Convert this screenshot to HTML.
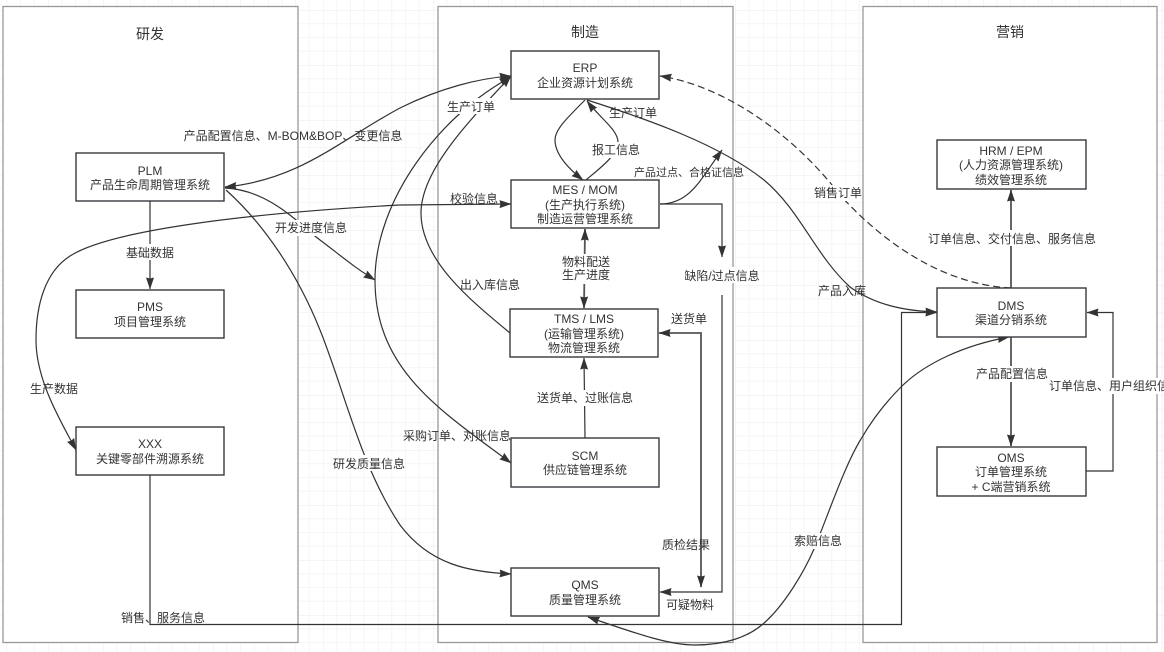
<!DOCTYPE html>
<html><head><meta charset="utf-8"><style>
html,body{margin:0;padding:0;background:#fff;width:1164px;height:652px;overflow:hidden}
svg{display:block;filter:blur(.3px)}
text{font-family:"Liberation Sans","Noto Sans CJK SC",sans-serif;font-size:12px;fill:#333;text-anchor:middle}
.c{fill:#fff;stroke:#999;stroke-width:1.3}
.b{fill:#fff;stroke:#36393d;stroke-width:1.4}
.l{fill:none;stroke:#333;stroke-width:1.2}
.t{fill:none;stroke:#555;stroke-width:1.8}
.w{fill:#fff}
</style></head><body>
<svg width="1164" height="652" viewBox="0 0 1164 652" xmlns="http://www.w3.org/2000/svg">
<defs>
<pattern id="g" width="55" height="55" patternUnits="userSpaceOnUse" patternTransform="translate(48 10)">
<path d="M13.75 0V55M27.5 0V55M41.25 0V55M0 13.75H55M0 27.5H55M0 41.25H55" stroke="#f6f6f6" stroke-width="1" fill="none"/>
<path d="M0 0V55M0 0H55" stroke="#efefef" stroke-width="1.2" fill="none"/>
</pattern>
<marker id="a" markerUnits="userSpaceOnUse" markerWidth="13" markerHeight="9" refX="11.5" refY="4" orient="auto-start-reverse" viewBox="0 0 13 8">
<path d="M0 0L12 4L0 8L1 4Z" fill="#333"/>
</marker>
</defs>
<rect width="1164" height="652" fill="#fff"/>
<rect width="1164" height="652" fill="url(#g)"/>
<rect class="c" x="3" y="6.500" width="295" height="636"/>
<rect class="c" x="438" y="6.500" width="295" height="636"/>
<rect class="c" x="863" y="6.500" width="294" height="636"/>
<text x="150" y="39" style="font-size:14px">研发</text>
<text x="585" y="37" style="font-size:14px">制造</text>
<text x="1010" y="37" style="font-size:14px">营销</text>

<!-- connectors -->
<path class="l" d="M225,187 C300,180 340,140 400,108 C440,88 480,78 511,76" marker-start="url(#a)" marker-end="url(#a)"/>
<path class="l" d="M225,188 C270,190 300,225 320,240 C340,255 355,268 375,280" marker-end="url(#a)"/>
<path class="l" d="M511,77 C440,115 375,200 375,280 C375,370 440,410 511,463" marker-start="url(#a)" marker-end="url(#a)"/>
<path class="l" d="M510,333 C470,300 421,260 421,213 C421,170 470,120 511,76" marker-end="url(#a)"/>
<path class="l" d="M226,190 C265,225 298,275 320,330 C345,392 360,465 400,525 C430,565 470,572 511,574" marker-end="url(#a)"/>
<path class="l" d="M511,204 L400,205 C250,213 110,230 70,256 C45,272 36,305 36,340 C36,380 60,420 76,450" marker-start="url(#a)" marker-end="url(#a)"/>
<path class="l" d="M585,100 C565,120 555,130 555,140 C555,155 570,170 583,180" marker-end="url(#a)" stroke-width="1.4"/>
<path class="l" d="M586,180 C600,168 618,155 618,142 C618,130 600,118 587,101" marker-end="url(#a)" stroke-width="1.4"/>
<path class="l" d="M587,100 C650,120 720,145 764,180 C800,210 815,255 850,287 C875,305 905,311 937,312" marker-end="url(#a)"/>
<path class="l" stroke-dasharray="7 4" d="M1011,288 C950,285 890,250 840,195 C790,130 720,85 660,76" marker-end="url(#a)"/>
<path class="l" d="M660,204 C690,204 700,180 722,150" marker-end="url(#a)"/>
<path class="l" d="M660,204 H722 V257" marker-end="url(#a)"/>
<path class="l" d="M722,295 V592 H660" marker-end="url(#a)"/>
<path class="t" d="M701,587 V333 H659" marker-start="url(#a)" marker-end="url(#a)"/>
<path class="t" d="M585,229 L584,308" marker-start="url(#a)" marker-end="url(#a)"/>
<path class="l" stroke-width="1.4" d="M585,438 L584,358" marker-end="url(#a)"/>
<path class="l" d="M150,475 V624.500 H901.500 V312.500 H937" marker-end="url(#a)"/>
<path class="l" d="M588,617 C640,635 670,645 695,645 C725,645 748,637 763,624 C785,605 805,570 814,549 C830,510 845,465 861,439 C872,420 885,403 901,387 C925,363 965,345 1009,337" marker-start="url(#a)" marker-end="url(#a)"/>
<path class="t" d="M1011,288 V190" marker-end="url(#a)"/>
<path class="t" d="M1011,337 V446" marker-end="url(#a)"/>
<path class="l" d="M1086,471 H1113 V312.500 H1087" marker-end="url(#a)"/>
<path class="l" stroke-width="1.5" d="M150,201 V289" marker-end="url(#a)"/>

<!-- boxes -->
<rect class="b" x="76" y="153" width="148" height="48"/>
<rect class="b" x="76" y="290" width="148" height="48"/>
<rect class="b" x="76" y="427" width="148" height="48"/>
<rect class="b" x="511" y="51" width="148" height="48"/>
<rect class="b" x="511" y="180" width="148" height="48"/>
<rect class="b" x="510" y="309" width="148" height="48"/>
<rect class="b" x="511" y="438" width="148" height="49"/>
<rect class="b" x="511" y="568" width="148" height="48"/>
<rect class="b" x="937" y="140" width="149" height="49"/>
<rect class="b" x="937" y="288" width="149" height="49"/>
<rect class="b" x="937" y="447" width="149" height="49"/>

<text x="150" y="175">PLM</text><text x="150" y="189">产品生命周期管理系统</text>
<text x="150" y="311">PMS</text><text x="150" y="326">项目管理系统</text>
<text x="150" y="448">XXX</text><text x="150" y="463">关键零部件溯源系统</text>
<text x="585" y="72">ERP</text><text x="585" y="87">企业资源计划系统</text>
<text x="585" y="194">MES / MOM</text><text x="585" y="209">(生产执行系统)</text><text x="585" y="223">制造运营管理系统</text>
<text x="584" y="323">TMS / LMS</text><text x="584" y="338">(运输管理系统)</text><text x="584" y="352">物流管理系统</text>
<text x="585" y="460">SCM</text><text x="585" y="474">供应链管理系统</text>
<text x="585" y="589">QMS</text><text x="585" y="604">质量管理系统</text>
<text x="1011" y="155">HRM / EPM</text><text x="1011" y="169">(人力资源管理系统)</text><text x="1011" y="184">绩效管理系统</text>
<text x="1011" y="310">DMS</text><text x="1011" y="324">渠道分销系统</text>
<text x="1011" y="462">OMS</text><text x="1011" y="476">订单管理系统</text><text x="1011" y="491">+ C端营销系统</text>

<!-- label backgrounds -->
<rect class="w" x="126" y="244" width="49" height="16"/>
<rect class="w" x="275" y="220" width="72" height="16"/>
<rect class="w" x="591" y="142" width="50" height="16"/>
<rect class="w" x="561" y="254" width="50" height="30"/>
<rect class="w" x="684" y="267" width="77" height="16"/>
<rect class="w" x="537" y="390" width="96" height="16"/>
<rect class="w" x="333" y="455" width="72" height="16"/>
<rect class="w" x="794" y="533" width="49" height="16"/>
<rect class="w" x="976" y="366" width="72" height="16"/>
<rect class="w" x="930" y="230" width="165" height="16"/>
<rect class="w" x="1049" y="378" width="115" height="16"/>
<rect class="w" x="447" y="98" width="49" height="16"/>
<rect class="w" x="814" y="185" width="48" height="16"/>

<!-- labels -->
<text x="293" y="140">产品配置信息、M-BOM&amp;BOP、变更信息</text>
<text x="311" y="232">开发进度信息</text>
<text x="150" y="257">基础数据</text>
<text x="54" y="393">生产数据</text>
<text x="163" y="622">销售、服务信息</text>
<text x="369" y="468">研发质量信息</text>
<text x="471" y="111">生产订单</text>
<text x="633" y="117">生产订单</text>
<text x="616" y="154">报工信息</text>
<text x="474" y="203">校验信息</text>
<text x="689" y="176" style="font-size:11px">产品过点、合格证信息</text>
<text x="490" y="289">出入库信息</text>
<text x="586" y="266">物料配送</text>
<text x="586" y="279">生产进度</text>
<text x="722" y="280">缺陷/过点信息</text>
<text x="689" y="323">送货单</text>
<text x="585" y="402">送货单、过账信息</text>
<text x="457" y="440">采购订单、对账信息</text>
<text x="686" y="549">质检结果</text>
<text x="690" y="609">可疑物料</text>
<text x="838" y="197">销售订单</text>
<text x="842" y="295">产品入库</text>
<text x="1012" y="243">订单信息、交付信息、服务信息</text>
<text x="1012" y="378">产品配置信息</text>
<text x="1049" y="390" style="text-anchor:start">订单信息、用户组织信息</text>
<text x="818" y="545">索赔信息</text>
</svg>
</body></html>
